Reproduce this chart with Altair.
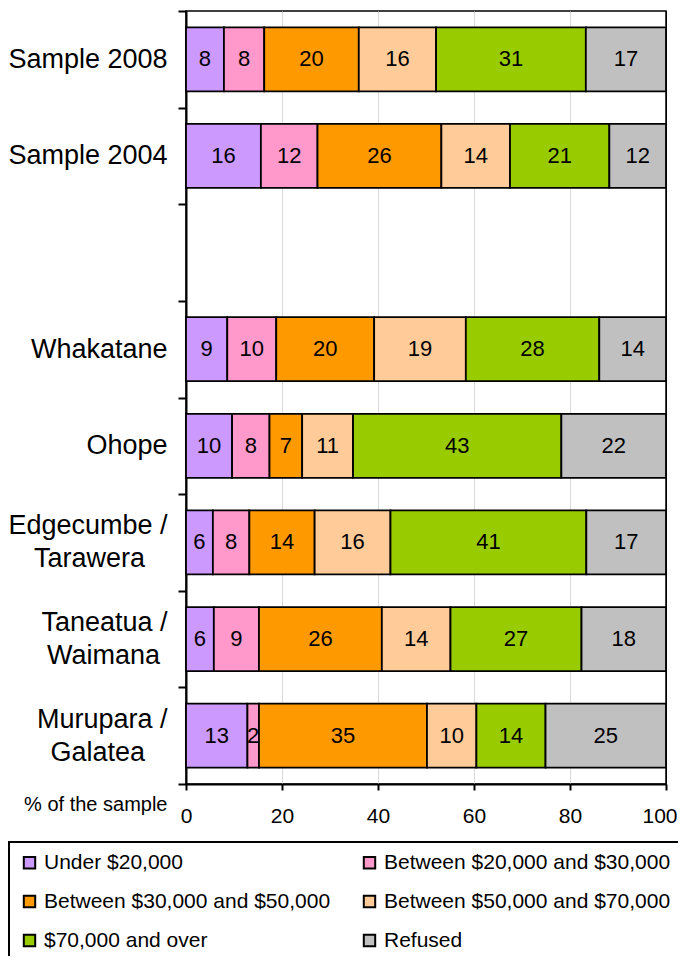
import json
import altair as alt
import pandas as pd

FONT = "Liberation Sans"

categories = ["Sample 2008", "Sample 2004", " ", "Whakatane", "Ohope",
              "Edgecumbe / Tarawera", "Taneatua / Waimana", "Murupara / Galatea"]
bar_categories = ["Sample 2008", "Sample 2004", "Whakatane", "Ohope",
                  "Edgecumbe / Tarawera", "Taneatua / Waimana", "Murupara / Galatea"]
groups = ["Under $20,000", "Between $20,000 and $30,000", "Between $30,000 and $50,000",
          "Between $50,000 and $70,000", "$70,000 and over", "Refused"]
colors = ["#CC99FF", "#FF99CC", "#FF9900", "#FFCC99", "#99CC00", "#C0C0C0"]

under_20k = [7.9, 15.6, 8.6, 9.6, 5.6, 5.8, 12.8]
b20_30k = [8.4, 11.8, 10.2, 7.8, 7.6, 9.4, 2.4]
b30_50k = [19.7, 25.8, 20.4, 6.8, 13.6, 25.6, 35.0]
b50_70k = [16.1, 14.3, 19.1, 10.6, 15.8, 14.3, 10.3]
over_70k = [31.2, 20.7, 27.8, 43.4, 40.8, 27.3, 14.4]
refused = [16.7, 11.8, 13.9, 21.8, 16.6, 17.6, 25.1]

series = [under_20k, b20_30k, b30_50k, b50_70k, over_70k, refused]
x_ticks = [0, 20, 40, 60, 80, 100]

rows = []
for gi, (g, vals) in enumerate(zip(groups, series)):
    for c, v in zip(bar_categories, vals):
        rows.append({"category": c, "group": g, "order": gi, "value": v})
df = pd.DataFrame(rows)

# two-line axis labels; the second line is padded so it sits centred under the first
pad = "\u00a0"
zw = "\u200b"
label_lines = {
    "Edgecumbe / Tarawera": ["Edgecumbe /", "Tarawera" + pad * 3 + zw],
    "Taneatua / Waimana": ["Taneatua /", "Waimana" + pad * 1 + zw],
    "Murupara / Galatea": ["Murupara /", "Galatea" + pad * 3 + zw],
}
expr = "datum.label"
for k, v in label_lines.items():
    expr = (f"datum.label == {json.dumps(k, ensure_ascii=False)} ? "
            f"{json.dumps(v, ensure_ascii=False)} : ({expr})")

LINE_H = 33

base = alt.Chart(df).transform_stack(
    stack="value", groupby=["category"], as_=["x0", "x1"],
    sort=[alt.SortField("order", order="ascending")]
)

y_enc = alt.Y(
    "category:N",
    scale=alt.Scale(domain=categories, paddingInner=0, paddingOuter=0),
    axis=alt.Axis(
        title=None, tickBand="extent", tickSize=8, tickWidth=2, tickColor="black",
        domainColor="black", domainWidth=2, grid=False,
        labelFont=FONT, labelFontSize=27, labelColor="black", labelPadding=11,
        labelLineHeight=LINE_H, labelExpr=expr, labelLimit=300,
        labelOffset={"condition": {"test": "indexof(datum.label, ' / ') >= 0",
                                   "value": -LINE_H / 2}, "value": 0},
    ),
)

x_scale = alt.Scale(domain=[0, 100], nice=False, zero=True)

bars = base.mark_bar(stroke="black", strokeWidth=1.8, height={"band": 0.663}).encode(
    x=alt.X(
        "x0:Q", scale=x_scale,
        axis=alt.Axis(
            values=x_ticks, grid=True,
            gridColor={"condition": {"test": "datum.value == 0 || datum.value == 100",
                                     "value": "black"}, "value": "#D9D9D9"},
            gridWidth=1, domainColor="black", domainWidth=2,
            tickColor="black", tickWidth=2, tickSize=6,
            labelFont=FONT, labelFontSize=21, labelColor="black", labelPadding=15,
            labelFlush=False,
            labelAlign={"condition": {"test": "datum.value == 100", "value": "right"},
                        "value": "center"},
            labelOffset={"condition": {"test": "datum.value == 100", "value": 11},
                         "value": 0},
            title="% of the sample", titleFont=FONT, titleFontSize=20,
            titleFontWeight="normal", titleColor="black",
            titleX=-19, titleY=26, titleAlign="right", titleBaseline="alphabetic",
            titleAngle=0,
        ),
    ),
    x2="x1:Q",
    y=y_enc,
    fill=alt.Fill(
        "group:N",
        scale=alt.Scale(domain=groups, range=colors),
        legend=alt.Legend(
            title=None, orient="none", legendX=-177, legendY=831, columns=2,
            direction="horizontal",
            columnPadding=28, rowPadding=17, padding=10,
            strokeColor="black", fillColor="white",
            symbolType="square", symbolSize=130, symbolStrokeColor="black",
            symbolStrokeWidth=2, symbolOffset=0,
            labelFont=FONT, labelFontSize=21, labelColor="black",
            labelLimit=400, labelOffset=4,
        ),
    ),
)

text = base.transform_calculate(
    mid="(datum.x0 + datum.x1) / 2"
).mark_text(font=FONT, fontSize=22, color="black", align="center",
            baseline="middle").encode(
    x=alt.X("mid:Q", scale=x_scale),
    y=alt.Y("category:N", scale=alt.Scale(domain=categories, paddingInner=0,
                                          paddingOuter=0)),
    text=alt.Text("value:Q", format=".0f"),
)

chart = alt.layer(bars, text).properties(
    width=480, height=773,
    autosize=alt.AutoSizeParams(type="none"),
    padding={"left": 178, "top": 3, "right": 12, "bottom": 172},
).configure_view(
    stroke="black", strokeWidth=1.5
).configure_legend(
    strokeWidth=2
)

chart.save("out.html", embed_options={"renderer": "svg", "actions": False})
